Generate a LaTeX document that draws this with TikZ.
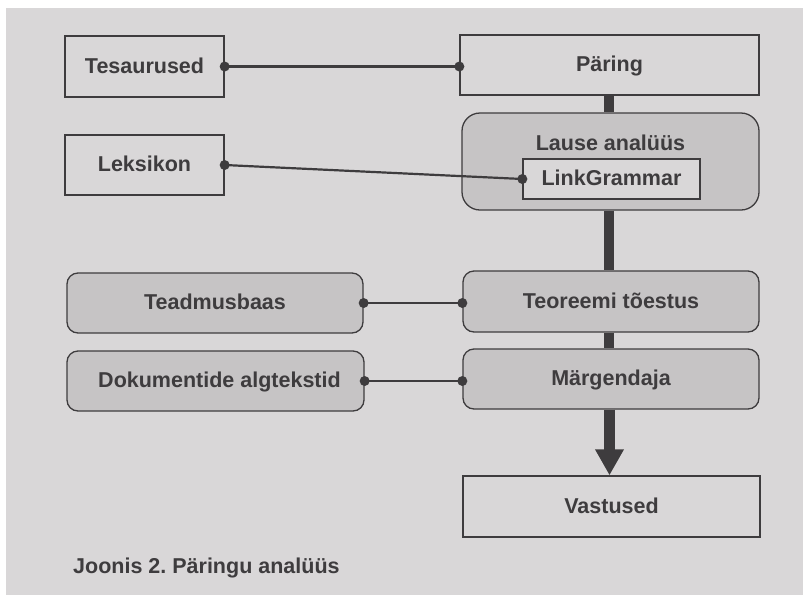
\documentclass[tikz,border=0pt]{standalone}
\usepackage{fontspec}
\setmainfont{Liberation Sans}
\usetikzlibrary{arrows.meta,calc}
\definecolor{paper}{HTML}{D9D7D8}
\definecolor{shade}{HTML}{C6C4C5}
\definecolor{ink}{HTML}{3E3C3E}
\frenchspacing
\tikzset{
  lbl/.style={font=\fontsize{21.5}{25}\selectfont\bfseries, text=ink, text height=17pt, text depth=4pt},
  plainbox/.style={draw=ink, line width=1.3pt, fill=paper, inner sep=0pt, lbl},
  greybox/.style={draw=ink, line width=1.3pt, fill=shade, rounded corners=11pt, inner sep=0pt, lbl},
  link/.style={draw=ink, line width=2.2pt},
  flow/.style={draw=ink, line width=10.5pt}
}
\begin{document}
\begin{tikzpicture}[x=1pt,y=-1pt]
  % sheet and margins
  \fill[white] (0,0) rectangle (803,595);
  \fill[paper] (6,8) rectangle (803,595);
  \useasboundingbox (0,0) rectangle (803,595);

  % left column
  \node[plainbox, minimum width=159pt, minimum height=61pt] (tes) at (144.5,66.5) {Tesaurused};
  \node[plainbox, minimum width=159pt, minimum height=60pt] (lek) at (144.5,165) {Leksikon};
  \node[greybox, minimum width=296pt, minimum height=60pt] (tea) at (215,303) {Teadmusbaas};
  \node[greybox, minimum width=297pt, minimum height=60pt] (dok) at (215.5,381) {\hspace{8pt}Dokumentide algtekstid};

  % right column
  \node[plainbox, minimum width=299pt, minimum height=60pt] (par) at (609.5,65) {Päring};
  \node[greybox, rounded corners=18pt, minimum width=297pt, minimum height=97pt] (lau) at (610.5,161.5) {};
  \node[lbl] (lautxt) at (610.5,144) {Lause analüüs};
  \node[plainbox, minimum width=177pt, minimum height=40pt] (lg) at (611.5,179) {LinkGrammar};
  \node[greybox, minimum width=296pt, minimum height=61pt] (teo) at (611,301.5) {Teoreemi tõestus};
  \node[greybox, minimum width=296pt, minimum height=60pt] (mar) at (611,379) {Märgendaja};
  \node[plainbox, minimum width=297pt, minimum height=61pt] (vas) at (611.5,506.5) {Vastused};

  % processing chain
  \draw[flow] (par.south -| 609,0) -- (lau.north -| 609,0);
  \draw[flow] (lau.south -| 609,0) -- (teo.north -| 609,0);
  \draw[flow] (teo.south -| 609,0) -- (mar.north -| 609,0);
  \draw[flow, -{Triangle[width=27pt,length=26pt]}] (mar.south -| 609.5,0) -- (vas.north -| 609.5,0);

  % resource links with round joints at both ends
  \draw[link] (tes.east) -- (tes.east -| par.west);
  \fill[ink] (tes.east) circle[radius=5pt] (tes.east -| par.west) circle[radius=5pt];
  \draw[link] (lek.east) -- (lg.west);
  \fill[ink] (lek.east) circle[radius=5pt] (lg.west) circle[radius=5pt];
  \draw[link] (tea.east) -- (tea.east -| teo.west);
  \fill[ink] (tea.east) circle[radius=5pt] (tea.east -| teo.west) circle[radius=5pt];
  \draw[link] (dok.east) -- (dok.east -| mar.west);
  \fill[ink] (dok.east) circle[radius=5pt] (dok.east -| mar.west) circle[radius=5pt];

  % caption
  \node[anchor=base west, text=ink, inner sep=0pt, font=\fontsize{21.5}{25}\selectfont\bfseries] (cap) at (73,573)
    {Joonis 2. Päringu analüüs};
\end{tikzpicture}
\end{document}
